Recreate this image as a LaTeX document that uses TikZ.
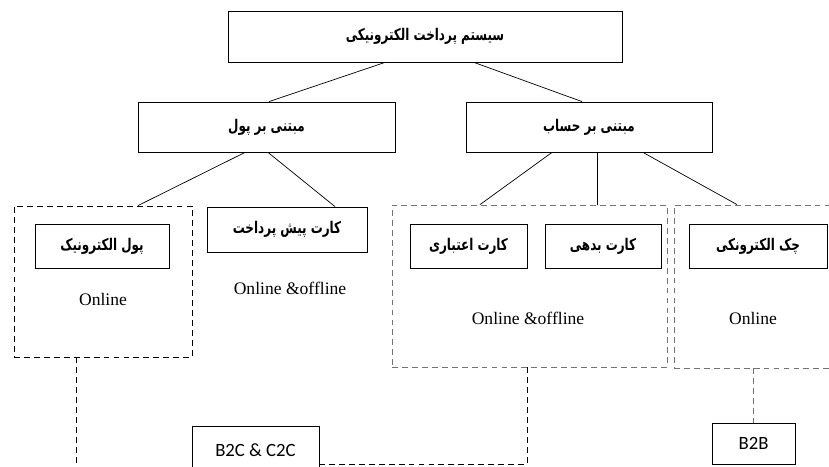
\documentclass[tikz,border=0pt]{standalone}
\usepackage{fontspec}
\usepackage{graphicx}
\usepackage{tikz}
\usetikzlibrary{calc}
\TeXXeTstate=1
\newfontfamily\fafont[Script=Arabic]{DejaVu Sans}
\newfontfamily\serifen{Liberation Serif}
\newfontfamily\calen{Carlito}
\newcommand{\fa}[1]{\scalebox{1}[1.35]{\fafont\bfseries\fontsize{10.2}{12}\selectfont\beginR #1\endR}}

\begin{document}
\begin{tikzpicture}[x=0.03cm, y=-0.03cm,
    box/.style={draw, line width=0.7pt, inner sep=0pt},
    grp/.style={draw, dash pattern=on 5pt off 3.5pt, line width=0.7pt, inner sep=0pt},
    grpgray/.style={grp, draw=black!55},
    link/.style={line width=0.6pt},
    dlink/.style={line width=0.6pt, dash pattern=on 5pt off 3.5pt},
    mode/.style={font=\serifen\fontsize{15}{17}\selectfont},
    market/.style={box, font=\calen\fontsize{16}{18}\selectfont}]
    \useasboundingbox (0,0) rectangle (829,466);
    \clip (0,0) rectangle (829,466);
    % dashed groups
    \node [grp, minimum width=5.34cm, minimum height=4.53cm] (grpL) at (103,281.5) {};
    \node [grpgray, minimum width=8.25cm, minimum height=4.86cm] (grpM) at (529.5,286) {};
    \node [grpgray, minimum width=4.98cm, minimum height=4.89cm] (grpR) at (757,286.5) {};
    % boxes
    \node [box, minimum width=11.82cm, minimum height=1.53cm] (top) at (425,36.5) {\fa{سیستم پرداخت الکترونیکی}};
    \node [box, minimum width=7.71cm, minimum height=1.5cm] (poul) at (266.5,127) {\fa{مبتنی بر پول}};
    \node [box, minimum width=7.38cm, minimum height=1.5cm] (hesab) at (589,127) {\fa{مبتنی بر حساب}};
    \node [box, minimum width=4.02cm, minimum height=1.32cm] (epoul) at (102,246) {\fa{پول الکترونیک}};
    \node [box, minimum width=4.8cm, minimum height=1.35cm] (pish) at (287,229.5) {\fa{کارت پیش پرداخت}};
    \node [box, minimum width=3.51cm, minimum height=1.32cm] (credit) at (468.5,246) {\fa{کارت اعتباری}};
    \node [box, minimum width=3.48cm, minimum height=1.32cm] (debit) at (603,246) {\fa{کارت بدهی}};
    \node [box, minimum width=4.14cm, minimum height=1.32cm] (cheque) at (758,246) {\fa{چک الکترونکی}};
    \node [market, minimum width=3.81cm, minimum height=1.44cm] (b2c) at (255.5,450) {B2C \& C2C};
    \node [market, minimum width=2.49cm, minimum height=1.23cm] (b2b) at (753.5,443.5) {B2B};
    \node [mode] (onL) at (103,299) {Online};
    \node [mode] (onP) at (290,288) {Online \&offline};
    \node [mode] (onM) at (528,318) {Online \&offline};
    \node [mode] (onR) at (753,318) {Online};
    % tree lines
    \draw [link] ($(top.south)+(-40,0)$) -- ($(poul.north)+(2.5,0)$);
    \draw [link] ($(top.south)+(49,0)$) -- ($(hesab.north)+(-7,0)$);
    \draw [link] ($(poul.south)+(-21.5,0)$) -- ($(grpL.north)+(35,0)$);
    \draw [link] ($(poul.south)+(1.5,0)$) -- ($(pish.north)+(48,0)$);
    \draw [link] ($(hesab.south)+(-37,0)$) -- ($(grpM.north)+(-49.5,0)$);
    \draw [link] ($(hesab.south)+(8,0)$) -- ($(grpM.north)+(67.5,0)$);
    \draw [link] ($(hesab.south)+(54,0)$) -- ($(grpR.north)+(-20,0)$);
    % markets
    \coordinate (endL) at (76,475);
    \draw [dlink] ($(grpL.south)+(-27,0)$) -- (endL);
    \draw [dlink] ($(grpM.south)+(-2.5,0)$) |- ($(b2c.east)+(0,14)$);
    \draw [dlink, draw=black!55] ($(grpR.south)+(-3.5,0)$) -- (b2b.north);
\end{tikzpicture}
\end{document}
